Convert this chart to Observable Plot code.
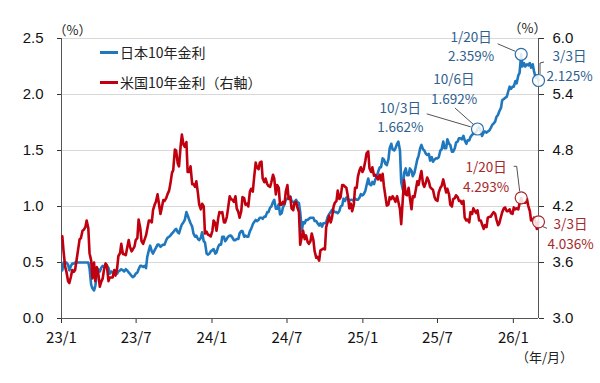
<!DOCTYPE html>
<html><head><meta charset="utf-8">
<script src="https://cdn.jsdelivr.net/npm/d3@7"></script>
<script src="https://cdn.jsdelivr.net/npm/@observablehq/plot@0.6"></script>
<style>
body{margin:0;background:#fff}
#wrap{position:relative;width:600px;height:383px;overflow:hidden}
#legend{position:absolute;left:100px;top:42px;font-family:"Noto Sans CJK JP",sans-serif;font-size:14px;color:#222}
#legend .row{display:flex;align-items:center;height:20px;margin-bottom:10px}
#legend .sw{width:18px;height:3px;margin-right:2px}
</style>
</head><body><div id="wrap"><div id="legend"></div></div>
<script>
// ---- data ----
const seriesNames = ["日本10年金利", "米国10年金利（右軸）"];
const seriesColors = ["#1f78bd", "#c0000f"];

const dates = [
 // 2023
 "2023-01-03","2023-01-06","2023-01-10","2023-01-13","2023-01-17","2023-01-20","2023-01-24","2023-01-27","2023-01-31",
 "2023-02-03","2023-02-07","2023-02-10","2023-02-14","2023-02-17","2023-02-21","2023-02-24","2023-02-28",
 "2023-03-03","2023-03-07","2023-03-10","2023-03-14","2023-03-17","2023-03-21","2023-03-24","2023-03-28","2023-03-31",
 "2023-04-04","2023-04-07","2023-04-11","2023-04-14","2023-04-18","2023-04-21","2023-04-25","2023-04-28",
 "2023-05-02","2023-05-05","2023-05-09","2023-05-12","2023-05-16","2023-05-19","2023-05-23","2023-05-26","2023-05-30",
 "2023-06-02","2023-06-06","2023-06-09","2023-06-13","2023-06-16","2023-06-20","2023-06-23","2023-06-27","2023-06-30",
 "2023-07-04","2023-07-07","2023-07-11","2023-07-14","2023-07-18","2023-07-21","2023-07-25","2023-07-28",
 "2023-08-01","2023-08-04","2023-08-08","2023-08-11","2023-08-15","2023-08-18","2023-08-22","2023-08-25","2023-08-29",
 "2023-09-01","2023-09-05","2023-09-08","2023-09-12","2023-09-15","2023-09-19","2023-09-22","2023-09-26","2023-09-29",
 "2023-10-03","2023-10-06","2023-10-10","2023-10-13","2023-10-17","2023-10-20","2023-10-24","2023-10-27","2023-10-31",
 "2023-11-03","2023-11-07","2023-11-10","2023-11-14","2023-11-17","2023-11-21","2023-11-24","2023-11-28",
 "2023-12-01","2023-12-05","2023-12-08","2023-12-12","2023-12-15","2023-12-19","2023-12-22","2023-12-26","2023-12-29",
 // 2024
 "2024-01-02","2024-01-05","2024-01-09","2024-01-12","2024-01-16","2024-01-19","2024-01-23","2024-01-26","2024-01-30",
 "2024-02-02","2024-02-06","2024-02-09","2024-02-13","2024-02-16","2024-02-20","2024-02-23","2024-02-27",
 "2024-03-01","2024-03-05","2024-03-08","2024-03-12","2024-03-15","2024-03-19","2024-03-22","2024-03-26","2024-03-29",
 "2024-04-02","2024-04-05","2024-04-09","2024-04-12","2024-04-16","2024-04-19","2024-04-23","2024-04-26","2024-04-30",
 "2024-05-03","2024-05-07","2024-05-10","2024-05-14","2024-05-17","2024-05-21","2024-05-24","2024-05-28","2024-05-31",
 "2024-06-04","2024-06-07","2024-06-11","2024-06-14","2024-06-18","2024-06-21","2024-06-25","2024-06-28",
 "2024-07-02","2024-07-05","2024-07-09","2024-07-12","2024-07-16","2024-07-19","2024-07-23","2024-07-26","2024-07-30",
 "2024-08-02","2024-08-06","2024-08-09","2024-08-13","2024-08-16","2024-08-20","2024-08-23","2024-08-27","2024-08-30",
 "2024-09-03","2024-09-06","2024-09-10","2024-09-13","2024-09-17","2024-09-20","2024-09-24","2024-09-27",
 "2024-10-01","2024-10-04","2024-10-08","2024-10-11","2024-10-15","2024-10-18","2024-10-22","2024-10-25","2024-10-29",
 "2024-11-01","2024-11-05","2024-11-08","2024-11-12","2024-11-15","2024-11-19","2024-11-22","2024-11-26","2024-11-29",
 "2024-12-03","2024-12-06","2024-12-10","2024-12-13","2024-12-17","2024-12-20","2024-12-24","2024-12-27","2024-12-31",
 // 2025
 "2025-01-03","2025-01-07","2025-01-10","2025-01-14","2025-01-17","2025-01-21","2025-01-24","2025-01-28","2025-01-31",
 "2025-02-04","2025-02-07","2025-02-11","2025-02-14","2025-02-18","2025-02-21","2025-02-25","2025-02-28",
 "2025-03-04","2025-03-07","2025-03-11","2025-03-14","2025-03-18","2025-03-21","2025-03-25","2025-03-28",
 "2025-04-01","2025-04-04","2025-04-08","2025-04-11","2025-04-15","2025-04-18","2025-04-22","2025-04-25","2025-04-29",
 "2025-05-02","2025-05-06","2025-05-09","2025-05-13","2025-05-16","2025-05-20","2025-05-23","2025-05-27","2025-05-30",
 "2025-06-03","2025-06-06","2025-06-10","2025-06-13","2025-06-17","2025-06-20","2025-06-24","2025-06-27",
 "2025-07-01","2025-07-04","2025-07-08","2025-07-11","2025-07-15","2025-07-18","2025-07-22","2025-07-25","2025-07-29",
 "2025-08-01","2025-08-05","2025-08-08","2025-08-12","2025-08-15","2025-08-19","2025-08-22","2025-08-26","2025-08-29",
 "2025-09-02","2025-09-05","2025-09-09","2025-09-12","2025-09-16","2025-09-19","2025-09-23","2025-09-26","2025-09-30",
 "2025-10-03","2025-10-06","2025-10-10","2025-10-14","2025-10-17","2025-10-21","2025-10-24","2025-10-28","2025-10-31",
 "2025-11-04","2025-11-07","2025-11-11","2025-11-14","2025-11-18","2025-11-21","2025-11-25","2025-11-28",
 "2025-12-02","2025-12-05","2025-12-09","2025-12-12","2025-12-16","2025-12-19","2025-12-23","2025-12-26","2025-12-30",
 // 2026
 "2026-01-02","2026-01-06","2026-01-09","2026-01-13","2026-01-16","2026-01-20","2026-01-23","2026-01-27","2026-01-30",
 "2026-02-03","2026-02-06","2026-02-10","2026-02-13","2026-02-17","2026-02-20","2026-02-24","2026-02-27",
 "2026-03-03"
];

const jpRates = [
 // 2023
 0.43,0.50,0.50,0.50,0.48,0.43,0.47,0.49,0.49,
 0.50,0.50,0.50,0.50,0.50,0.50,0.50,0.50,
 0.50,0.50,0.45,0.30,0.27,0.25,0.29,0.40,0.44,
 0.42,0.45,0.47,0.46,0.48,0.47,0.45,0.40,
 0.42,0.41,0.42,0.40,0.40,0.42,0.43,0.44,0.43,
 0.42,0.44,0.43,0.41,0.40,0.38,0.37,0.38,0.40,
 0.41,0.44,0.47,0.47,0.46,0.47,0.45,0.55,
 0.61,0.65,0.60,0.58,0.61,0.63,0.66,0.66,0.64,
 0.65,0.66,0.66,0.70,0.72,0.73,0.74,0.76,0.77,
 0.79,0.80,0.77,0.76,0.81,0.84,0.86,0.88,0.95,
 0.92,0.88,0.85,0.82,0.76,0.73,0.74,0.71,
 0.70,0.72,0.77,0.69,0.68,0.58,0.57,0.58,0.60,
 // 2024
 0.61,0.62,0.58,0.59,0.64,0.66,0.66,0.73,0.73,
 0.69,0.71,0.73,0.74,0.74,0.72,0.70,0.70,
 0.71,0.71,0.76,0.78,0.78,0.73,0.74,0.73,0.73,
 0.78,0.80,0.84,0.86,0.88,0.87,0.88,0.90,0.90,
 0.89,0.91,0.91,0.95,0.95,0.99,1.00,1.04,1.06,
 0.98,0.98,1.02,0.93,0.94,0.99,1.02,1.06,
 1.07,1.08,1.09,1.05,1.04,1.04,1.06,1.04,1.03,
 0.95,0.78,0.86,0.85,0.88,0.88,0.89,0.90,0.90,
 0.90,0.87,0.87,0.85,0.83,0.85,0.82,0.85,
 0.85,0.86,0.91,0.93,0.95,0.97,0.96,0.95,0.95,
 0.94,0.96,1.00,1.01,1.07,1.05,1.08,1.07,1.05,
 1.06,1.06,1.05,1.07,1.06,1.06,1.08,1.11,1.10,
 // 2025
 1.11,1.14,1.19,1.25,1.20,1.19,1.22,1.20,1.24,
 1.27,1.31,1.35,1.35,1.43,1.42,1.38,1.37,
 1.42,1.52,1.56,1.51,1.50,1.52,1.56,1.58,
 1.50,1.22,1.15,1.30,1.34,1.28,1.28,1.34,1.32,
 1.27,1.30,1.35,1.42,1.45,1.52,1.55,1.51,1.50,
 1.47,1.46,1.47,1.41,1.44,1.40,1.42,1.43,
 1.43,1.44,1.50,1.51,1.58,1.52,1.52,1.60,1.56,
 1.55,1.49,1.49,1.52,1.57,1.58,1.61,1.61,1.60,
 1.63,1.59,1.56,1.59,1.59,1.62,1.64,1.65,1.66,
 1.662,1.692,1.71,1.67,1.63,1.66,1.67,1.66,1.67,
 1.68,1.70,1.73,1.74,1.76,1.80,1.82,1.85,
 1.88,1.95,1.96,1.97,1.98,2.02,2.07,2.05,2.07,
 // 2026
 2.07,2.12,2.10,2.17,2.19,2.359,2.25,2.28,2.25,
 2.27,2.26,2.28,2.24,2.27,2.21,2.15,2.17,
 2.125
];

const usRates = [
 // 2023
 3.88,3.72,3.55,3.50,3.40,3.38,3.45,3.52,3.50,
 3.52,3.64,3.73,3.85,3.86,3.94,3.95,3.98,
 4.05,3.97,3.70,3.62,3.43,3.60,3.40,3.55,3.49,
 3.34,3.39,3.43,3.52,3.59,3.57,3.40,3.44,
 3.44,3.44,3.52,3.46,3.54,3.67,3.70,3.80,3.69,
 3.69,3.68,3.75,3.84,3.77,3.72,3.74,3.77,3.84,
 3.86,4.06,3.97,3.83,3.80,3.84,3.89,3.96,
 4.05,4.05,4.03,4.16,4.22,4.25,4.33,4.24,4.12,
 4.18,4.27,4.26,4.29,4.33,4.37,4.44,4.56,4.59,
 4.81,4.80,4.66,4.63,4.85,4.97,4.86,4.84,4.89,
 4.57,4.57,4.63,4.44,4.44,4.41,4.47,4.34,
 4.22,4.17,4.23,4.20,3.91,3.93,3.90,3.89,3.88,
 // 2024
 3.94,4.05,4.02,3.94,4.07,4.14,4.13,4.14,4.03,
 4.03,4.09,4.18,4.31,4.28,4.27,4.25,4.31,
 4.18,4.14,4.08,4.15,4.30,4.29,4.22,4.23,4.20,
 4.36,4.39,4.36,4.50,4.67,4.62,4.60,4.67,4.68,
 4.50,4.46,4.50,4.44,4.42,4.41,4.46,4.54,4.50,
 4.33,4.43,4.40,4.22,4.22,4.25,4.23,4.36,
 4.43,4.28,4.30,4.18,4.16,4.24,4.25,4.19,4.14,
 3.79,3.88,3.94,3.85,3.89,3.82,3.80,3.83,3.91,
 3.84,3.72,3.65,3.66,3.62,3.73,3.74,3.75,
 3.74,3.98,4.04,4.10,4.03,4.08,4.20,4.24,4.26,
 4.37,4.28,4.30,4.43,4.43,4.41,4.40,4.30,4.18,
 4.23,4.15,4.22,4.40,4.40,4.52,4.59,4.62,4.57,
 // 2025
 4.60,4.69,4.77,4.79,4.61,4.57,4.62,4.53,4.54,
 4.51,4.49,4.54,4.48,4.55,4.42,4.30,4.21,
 4.22,4.30,4.28,4.31,4.28,4.25,4.31,4.25,
 4.17,4.01,4.29,4.48,4.33,4.32,4.40,4.29,4.17,
 4.31,4.30,4.37,4.47,4.43,4.52,4.58,4.44,4.41,
 4.46,4.51,4.47,4.41,4.39,4.38,4.30,4.27,
 4.26,4.35,4.40,4.42,4.49,4.43,4.35,4.39,4.33,
 4.22,4.20,4.28,4.29,4.32,4.30,4.26,4.26,4.23,
 4.26,4.08,4.05,4.06,4.03,4.14,4.12,4.18,4.15,
 4.13,4.16,4.05,4.05,4.01,3.96,4.00,3.98,4.08,
 4.09,4.09,4.12,4.14,4.12,4.06,4.00,4.02,
 4.09,4.14,4.18,4.19,4.15,4.15,4.17,4.13,4.12,
 // 2026
 4.19,4.17,4.18,4.17,4.23,4.293,4.24,4.24,4.24,
 4.28,4.21,4.15,4.05,4.05,4.08,4.03,3.96,
 4.036
];

// axes
const leftTicks = [0.0, 0.5, 1.0, 1.5, 2.0, 2.5];
const rightTicks = [3.0, 3.6, 4.2, 4.8, 5.4, 6.0];
const xTickDates = ["2023-01-01","2023-07-01","2024-01-01","2024-07-01","2025-01-01","2025-07-01","2026-01-01"];
const xTickLabels = ["23/1","23/7","24/1","24/7","25/1","25/7","26/1"];
const xDomain = ["2023-01-01","2026-03-03"];

// annotations
const annDates  = ["2025-10-03","2025-10-06","2026-01-20","2026-03-03","2026-01-20","2026-03-03"];
const annSeries = [0, 0, 0, 0, 1, 1];
const annLabels = ["10/3日","10/6日","1/20日","3/3日","1/20日","3/3日"];
const annCircle = [false, true, true, true, true, true];

// ---- layout / style (pixel offsets) ----
const annTextOffset = [[-76,-16],[-23.5,-41],[-50,-9],[31,-15.5],[-35,-22],[32,11]];
const annLeader = [
  [[-49,-18],[-5,-5]],
  [[-22,-20.5],[-4,-4.5]],
  [[-23,-10],[-5.5,-2.5]],
  [[2,-6],[2,-17],[6,-18]],
  [[-7,-31],[-4,-31],[-1,-6]],
  [[4,5],[9,7]]
];
const annTextColors = ["#2f5f8f", "#a5282a"];
const annCircleColors = ["#2f6fa8", "#a5282a"];

// ---- build ----
const parse = d3.utcParse("%Y-%m-%d");
const leftMax = 2.5, rightMin = 3.0, rightMax = 6.0;
const toLeft = v => (v - rightMin) / (rightMax - rightMin) * leftMax;

const jpData = dates.map((d, i) => ({date: parse(d), v: jpRates[i]}));
const usData = dates.map((d, i) => ({date: parse(d), v: toLeft(usRates[i])}));

const annotations = annDates.map((d, i) => {
  const s = annSeries[i];
  const k = dates.indexOf(d);
  const raw = s === 0 ? jpRates[k] : usRates[k];
  return {
    date: parse(d), s, raw,
    y: s === 0 ? raw : toLeft(raw),
    label: annLabels[i] + "\n" + raw.toFixed(3) + "%",
    dx: annTextOffset[i][0], dy: annTextOffset[i][1],
    leader: annLeader[i], circle: annCircle[i]
  };
});

const xtick = xTickDates.map(parse);

function leaderMark(index, scales) {
  const g = d3.create("svg:g").attr("fill", "none").attr("stroke", "#404040").attr("stroke-width", 0.9);
  for (const a of annotations) {
    const px = scales.x(a.date), py = scales.y(a.y);
    g.append("path").attr("d", d3.line()(a.leader.map(([dx, dy]) => [px + dx, py + dy])));
  }
  return g.node();
}

const jpFont = "'Noto Sans CJK JP', sans-serif";
const numFont = "'Liberation Sans', Arial, sans-serif";

const annTextMarks = annotations.map(a => Plot.text([a], {
  x: "date", y: "y", text: "label", dx: a.dx, dy: a.dy,
  fill: annTextColors[a.s], fontSize: 13.5, fontFamily: jpFont,
  textAnchor: "middle", lineAnchor: "middle", lineHeight: 1.45
}));

const chart = Plot.plot({
  width: 600, height: 383,
  marginLeft: 61, marginRight: 62, marginTop: 38, marginBottom: 65,
  style: {fontFamily: numFont, color: "#222", background: "white"},
  x: {type: "utc", domain: xDomain.map(parse)},
  y: {domain: [0, leftMax]},
  marks: [
    Plot.gridY(leftTicks.filter(d => d > 0), {stroke: "#d9d9d9", strokeOpacity: 1, strokeWidth: 1}),
    Plot.axisY(leftTicks, {anchor: "left", tickSize: 4, tickPadding: 14, tickFormat: d3.format(".1f"), fontSize: 15, color: "#333", fill: "#111"}),
    Plot.axisY(rightTicks.map(toLeft), {anchor: "right", tickSize: 5, tickPadding: 9,
      tickFormat: d => rightTicks[rightTicks.map(toLeft).findIndex(t => Math.abs(t - d) < 1e-9)].toFixed(1),
      fontSize: 15, color: "#333", fill: "#111"}),
    Plot.axisX(xtick, {tickSize: 5, tickPadding: 9,
      tickFormat: d => xTickLabels[xtick.findIndex(t => +t === +d)],
      fontSize: 15, fontFamily: jpFont, color: "#333", fill: "#111"}),
    Plot.ruleX([parse(xDomain[0]), parse(xDomain[1])], {stroke: "#555", strokeWidth: 1}),
    Plot.ruleY([0], {stroke: "#555", strokeWidth: 1}),
    Plot.line(jpData, {x: "date", y: "v", stroke: seriesColors[0], strokeWidth: 2.6, curve: "linear"}),
    Plot.line(usData, {x: "date", y: "v", stroke: seriesColors[1], strokeWidth: 2.6, curve: "linear"}),
    leaderMark,
    Plot.dot(annotations.filter(a => a.circle), {x: "date", y: "y", r: 6, fill: "white", fillOpacity: 0.85,
      stroke: a => annCircleColors[a.s], strokeWidth: 1.2}),
    ...annTextMarks,
    Plot.text(["（%）"], {frameAnchor: "top-left", dx: 11, dy: -8, textAnchor: "middle", lineAnchor: "middle",
      fontFamily: jpFont, fontSize: 13, fill: "#222"}),
    Plot.text(["（%）"], {frameAnchor: "top-right", dx: -11, dy: -10, textAnchor: "middle", lineAnchor: "middle",
      fontFamily: jpFont, fontSize: 13, fill: "#222"}),
    Plot.text(["（年/月）"], {frameAnchor: "bottom-right", dx: 6, dy: 39, textAnchor: "middle", lineAnchor: "middle",
      fontFamily: jpFont, fontSize: 13, fill: "#222"})
  ]
});

document.getElementById("wrap").prepend(chart);

// legend (HTML overlay inside the chart area)
const legend = document.getElementById("legend");
seriesNames.forEach((name, i) => {
  const row = document.createElement("div");
  row.className = "row";
  const sw = document.createElement("span");
  sw.className = "sw";
  sw.style.background = seriesColors[i];
  const tx = document.createElement("span");
  tx.textContent = name;
  row.append(sw, tx);
  legend.append(row);
});
</script>
</body></html>
